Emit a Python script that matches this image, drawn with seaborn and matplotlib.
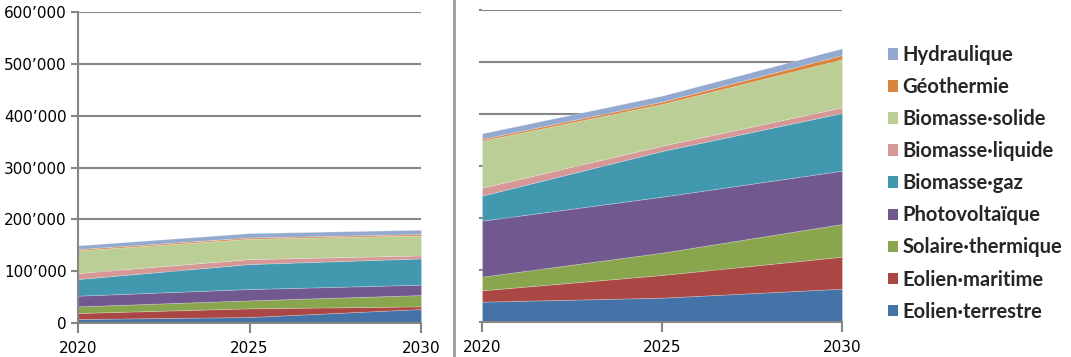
import matplotlib
matplotlib.use("Agg")
import matplotlib.pyplot as plt
from matplotlib.patches import Patch
from matplotlib.lines import Line2D
from matplotlib.ticker import FuncFormatter
import seaborn as sns

years = [2020, 2025, 2030]
series_names = ["Eolien·terrestre", "Eolien·maritime", "Solaire·thermique", "Photovoltaïque",
                "Biomasse·gaz", "Biomasse·liquide", "Biomasse·solide", "Géothermie", "Hydraulique"]
colors = ["#4572A7", "#AA4643", "#89A54E", "#71588F", "#4198AF",
          "#D69896", "#BACE96", "#DB843D", "#93A9CF"]

# Left panel values
left_terrestre = [7700, 11600, 27000]
left_maritime = [11600, 16700, 5100]
left_solaire = [12800, 15400, 21900]
left_pv = [20600, 21800, 19900]
left_gaz = [32100, 48200, 50700]
left_liquide = [11600, 9600, 5800]
left_solide = [43600, 39200, 38600]
left_geo = [2600, 2500, 2500]
left_hydro = [7100, 8400, 8400]

# Right panel values
right_terrestre = [39100, 46800, 64100]
right_maritime = [21800, 43600, 61500]
right_solaire = [26300, 42900, 62900]
right_pv = [107700, 107700, 102500]
right_gaz = [48100, 87800, 110900]
right_liquide = [15300, 10300, 10900]
right_solide = [90400, 80100, 92300]
right_geo = [3200, 4500, 8300]
right_hydro = [10900, 11500, 12900]

y_ticks = [0, 100000, 200000, 300000, 400000, 500000, 600000]

sns.set_theme(style="white")
plt.rcParams['font.family'] = ['Liberation Sans Narrow', 'DejaVu Sans']

fig = plt.figure(figsize=(10.71, 3.57), dpi=100)
axL = fig.add_axes([78/1071, 1-323/357, 343/1071, 311/357])
axR = fig.add_axes([482/1071, 1-322/357, 360/1071, 312/357])

grid_col = "#868686"
left_data = [left_terrestre, left_maritime, left_solaire, left_pv, left_gaz,
             left_liquide, left_solide, left_geo, left_hydro]
right_data = [right_terrestre, right_maritime, right_solaire, right_pv, right_gaz,
              right_liquide, right_solide, right_geo, right_hydro]

for ax, data in [(axL, left_data), (axR, right_data)]:
    ax.set_axisbelow(True)
    ax.yaxis.grid(True, color=grid_col, linewidth=1.5)
    ax.xaxis.grid(False)
    ax.stackplot(years, *data, colors=colors, linewidth=0.6, edgecolor="#FFFFFF40")
    ax.set_xlim(2020, 2030)
    ax.set_ylim(0, 600000)
    ax.set_xticks(years)
    ax.set_yticks(y_ticks)
    ax.set_facecolor("white")
    for s in ["top", "right"]:
        ax.spines[s].set_visible(False)
    ax.spines["bottom"].set_color(grid_col)
    ax.spines["bottom"].set_linewidth(1.5)
    ax.tick_params(axis="x", direction="out", length=7, width=1.5, color=grid_col,
                   pad=6, labelsize=11, bottom=True)
    ax.tick_params(axis="y", direction="out", length=5, width=1.5, color=grid_col,
                   pad=3, labelsize=11, left=True)
    for lab in ax.get_xticklabels() + ax.get_yticklabels():
        lab.set_color("black")

axL.spines["left"].set_color(grid_col)
axL.spines["left"].set_linewidth(1.5)
axL.yaxis.set_major_formatter(FuncFormatter(
    lambda v, p: "0" if v == 0 else f"{int(v):,}".replace(",", "\u2019")))

axR.spines["left"].set_visible(False)
axR.tick_params(axis="y", labelleft=False, length=2)

# Separator line between the two charts
fig.add_artist(Line2D([454/1071, 454/1071], [0, 1], transform=fig.transFigure,
                      color="#9A9A9A", linewidth=2))

handles = [Patch(facecolor=c, edgecolor="none") for c in colors][::-1]
labels = series_names[::-1]
fig.legend(handles, labels, loc="upper left", bbox_to_anchor=(888/1071, 1-45/357),
           frameon=False, handlelength=0.5, handleheight=0.5, handletextpad=0.2,
           labelspacing=0.6, borderaxespad=0, borderpad=0,
           prop={"family": ["Lato", "DejaVu Sans"], "weight": "bold", "size": 14.5})

fig.savefig("out.png", dpi=100)
